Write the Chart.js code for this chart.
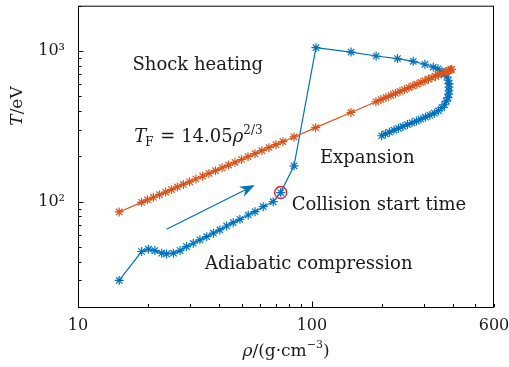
<!DOCTYPE HTML>
<html>
<head>
<script src="https://cdn.jsdelivr.net/npm/chart.js@4.4.1/dist/chart.umd.min.js"></script>
<style>
body { margin: 0; background: #fff; }
#wrap { width: 509px; height: 367px; }
</style>
</head>
<body>
<div id="wrap"><canvas id="myChart" width="509" height="367"></canvas></div>
<script>
// blue path (simulation), rho in g/cm^3, T in eV
var rhoBlue = [15.0, 18.7, 20.0, 21.3, 22.8, 23.9, 25.6, 27.3, 29.1, 31.1, 33.2, 35.5, 37.9, 40.4, 43.2, 46.1, 49.2, 53.4, 57.1, 61.9, 68.3,
  73.5, 83.8, 104, 147, 188, 232, 271, 304, 330,
  345.6, 359.4, 370.2, 377.6, 382.4, 385.1, 385.1, 385.1, 384.0, 381.3, 375.7, 368.4, 359.4, 347.2, 333.8, 319.3, 305.5, 292.3, 279.6, 267.6, 255.9, 244.9, 234.3, 224.1, 214.4, 206.1, 198.6];
var tBlue = [30, 46.7, 48.4, 47.4, 45.5, 45.0, 45.5, 47.4, 50.4, 53.0, 55.8, 58.6, 61.8, 65.0, 69.0, 72.6, 76.4, 81.6, 85.9, 92.7, 100,
  115, 173, 1053, 985, 927, 891, 855, 817, 783,
  762, 734, 706, 675, 640, 607, 575, 545, 517, 490, 465, 440, 421, 402, 387, 375, 364, 353, 343, 334, 325, 316, 307, 299, 289, 282, 274];

// Fermi temperature T_F = 14.05 rho^(2/3)
var rhoFermi = [15.0, 18.7, 19.8, 21.0, 22.3, 23.7, 25.1, 26.6, 28.2, 30.0, 31.9, 34.1, 36.3, 38.7, 41.3, 44.0, 46.9, 50.0, 53.3, 57.1, 61.1, 65.5, 70.2, 75.2,
  83.8, 103.7, 146.8, 187.7,
  197.2, 207.2, 217.6, 227.5, 237.8, 248.5, 259.8, 270.2, 281.0, 292.3, 304.0, 314.7, 325.7, 337.2, 347.2, 357.6, 366.5, 375.7, 383.2, 390.8, 395.4];
var tFermi = [85.5, 99.0, 102.9, 107.0, 111.3, 115.8, 120.4, 125.3, 130.3, 135.5, 141.5, 147.6, 154.0, 160.7, 167.7, 175.1, 182.7, 190.6, 198.9, 208.2, 218.1, 228.3, 239.1, 250.2,
  269.0, 310.1, 391.1, 460.8,
  476.1, 491.9, 508.3, 523.5, 539.3, 555.4, 572.0, 587.3, 602.9, 618.8, 635.3, 650.1, 665.2, 680.6, 694.0, 707.9, 719.6, 731.4, 741.2, 750.9, 756.8];

var collisionIndex = 21;           // point circled in red
var arrowFrom = [23.9, 65.6];      // [rho, T]
var arrowTo = [57, 129];

var xTicks = [10, 20, 30, 40, 50, 60, 70, 80, 90, 100, 200, 300, 400, 500, 600];
var xLabels = {10: '10', 100: '100', 600: '600'};
var yTicks = [20, 30, 40, 50, 60, 70, 80, 90, 100, 200, 300, 400, 500, 600, 700, 800, 900, 1000, 2000];
var yLabels = {100: '10\u00B2', 1000: '10\u00B3'};

var notes = [
  {text: 'Shock heating', x: 17.1, y: 745},
  {text: 'Expansion', x: 108.2, y: 181},
  {text: 'Collision start time', x: 81.9, y: 88.1},
  {text: 'Adiabatic compression', x: 34.9, y: 35.8}
];
var fermiNote = {x: 17.4, y: 250};

var BLUE = '#0072BD', ORANGE = '#D95319';
var SERIF = "'DejaVu Serif', serif";

function pts(xs, ys) {
  var out = [];
  for (var i = 0; i < xs.length; i++) out.push({x: xs[i], y: ys[i]});
  return out;
}

var extras = {
  id: 'extras',
  afterDatasetsDraw: function(chart) {
    var ctx = chart.ctx, a = chart.chartArea, sx = chart.scales.x, sy = chart.scales.y;
    ctx.save();
    // frame
    ctx.strokeStyle = '#000';
    ctx.lineWidth = 1;
    ctx.strokeRect(a.left + 0.5, a.top + 0.5, a.right - a.left - 1, a.bottom - a.top);
    // inward ticks
    ctx.beginPath();
    xTicks.forEach(function(v) {
      var px = Math.round(sx.getPixelForValue(v)) + 0.5;
      var len = (v === 10 || v === 100) ? 5.5 : 3;
      ctx.moveTo(px, a.bottom);
      ctx.lineTo(px, a.bottom - len);
    });
    yTicks.forEach(function(v) {
      var py = Math.round(sy.getPixelForValue(v)) + 0.5;
      var len = (v === 100 || v === 1000) ? 5.5 : 3.5;
      ctx.moveTo(a.left, py);
      ctx.lineTo(a.left + len, py);
    });
    ctx.stroke();

    // red circle at collision start
    var cx = sx.getPixelForValue(rhoBlue[collisionIndex]);
    var cy = sy.getPixelForValue(tBlue[collisionIndex]);
    ctx.strokeStyle = '#E0202A';
    ctx.lineWidth = 1.4;
    ctx.beginPath();
    ctx.arc(cx, cy, 6, 0, Math.PI * 2);
    ctx.stroke();

    // arrow
    var x0 = sx.getPixelForValue(arrowFrom[0]), y0 = sy.getPixelForValue(arrowFrom[1]);
    var x1 = sx.getPixelForValue(arrowTo[0]), y1 = sy.getPixelForValue(arrowTo[1]);
    var ang = Math.atan2(y1 - y0, x1 - x0);
    var hl = 15, hw = 5.5;
    ctx.strokeStyle = BLUE;
    ctx.fillStyle = BLUE;
    ctx.lineWidth = 1.3;
    ctx.beginPath();
    ctx.moveTo(x0, y0);
    ctx.lineTo(x1 - Math.cos(ang) * hl * 0.7, y1 - Math.sin(ang) * hl * 0.7);
    ctx.stroke();
    ctx.translate(x1, y1);
    ctx.rotate(ang);
    ctx.beginPath();
    ctx.moveTo(0, 0);
    ctx.lineTo(-hl, -hw);
    ctx.lineTo(-hl * 0.7, 0);
    ctx.lineTo(-hl, hw);
    ctx.closePath();
    ctx.fill();
    ctx.setTransform(1, 0, 0, 1, 0, 0);

    // text notes
    ctx.fillStyle = '#1a1a1a';
    ctx.textBaseline = 'alphabetic';
    ctx.textAlign = 'left';
    ctx.font = '18px ' + SERIF;
    notes.forEach(function(n) {
      ctx.fillText(n.text, sx.getPixelForValue(n.x), sy.getPixelForValue(n.y));
    });

    // T_F = 14.05 rho^(2/3)
    var tx = sx.getPixelForValue(fermiNote.x), ty = sy.getPixelForValue(fermiNote.y);
    ctx.font = 'italic 18px ' + SERIF;
    ctx.fillText('T', tx, ty);
    tx += ctx.measureText('T').width - 1;
    ctx.font = '12px ' + SERIF;
    ctx.fillText('F', tx, ty + 4);
    tx += ctx.measureText('F').width + 1;
    ctx.font = '18px ' + SERIF;
    ctx.fillText(' = 14.05', tx, ty);
    tx += ctx.measureText(' = 14.05').width;
    ctx.font = 'italic 18px ' + SERIF;
    ctx.fillText('\u03C1', tx, ty);
    tx += ctx.measureText('\u03C1').width;
    ctx.font = '12px ' + SERIF;
    ctx.fillText('2/3', tx, ty - 8);

    // axis titles
    var xt1 = '\u03C1', xt2 = '/(g\u00B7cm', xt3 = '\u22123', xt4 = ')';
    ctx.font = 'italic 17px ' + SERIF;
    var w1 = ctx.measureText(xt1).width;
    ctx.font = '17px ' + SERIF;
    var w2 = ctx.measureText(xt2).width, w4 = ctx.measureText(xt4).width;
    ctx.font = '11px ' + SERIF;
    var w3 = ctx.measureText(xt3).width;
    var bx = (a.left + a.right) / 2 - (w1 + w2 + w3 + w4) / 2, by = 356;
    ctx.font = 'italic 17px ' + SERIF;
    ctx.fillText(xt1, bx, by);
    ctx.font = '17px ' + SERIF;
    ctx.fillText(xt2, bx + w1, by);
    ctx.font = '11px ' + SERIF;
    ctx.fillText(xt3, bx + w1 + w2, by - 8);
    ctx.font = '17px ' + SERIF;
    ctx.fillText(xt4, bx + w1 + w2 + w3, by);

    ctx.translate(22, 106);
    ctx.rotate(-Math.PI / 2);
    ctx.font = 'italic 17px ' + SERIF;
    var wT = ctx.measureText('T').width;
    ctx.font = '17px ' + SERIF;
    var wR = ctx.measureText('/eV').width;
    ctx.font = 'italic 17px ' + SERIF;
    ctx.fillText('T', -(wT + wR) / 2, 0);
    ctx.font = '17px ' + SERIF;
    ctx.fillText('/eV', -(wT + wR) / 2 + wT, 0);
    ctx.restore();
  }
};

var ctx = document.getElementById('myChart').getContext('2d');
var myChart = new Chart(ctx, {
  type: 'line',
  data: {
    datasets: [
      {
        label: 'T_F',
        data: pts(rhoFermi, tFermi),
        borderColor: ORANGE,
        backgroundColor: ORANGE,
        borderWidth: 1.2,
        pointStyle: 'star',
        pointRadius: 4.5,
        pointBorderWidth: 1.2,
        tension: 0
      },
      {
        label: 'path',
        data: pts(rhoBlue, tBlue),
        borderColor: BLUE,
        backgroundColor: BLUE,
        borderWidth: 1.2,
        pointStyle: 'star',
        pointRadius: 4.5,
        pointBorderWidth: 1.2,
        tension: 0
      }
    ]
  },
  options: {
    responsive: false,
    animation: false,
    layout: { padding: { top: 5, right: 15, left: 0, bottom: 0 } },
    plugins: { legend: { display: false }, tooltip: { enabled: false } },
    scales: {
      x: {
        type: 'logarithmic',
        min: 10,
        max: 600,
        grid: { display: false },
        border: { display: false },
        afterBuildTicks: function(s) { s.ticks = xTicks.map(function(v) { return {value: v}; }); },
        afterFit: function(s) { s.height = 60; s.paddingLeft = 0; s.paddingRight = 0; },
        ticks: {
          autoSkip: false,
          maxRotation: 0,
          padding: 1,
          color: '#1a1a1a',
          font: { family: SERIF, size: 16 },
          callback: function(v) { return xLabels[v] || ''; }
        }
      },
      y: {
        type: 'logarithmic',
        min: 20,
        max: 2000,
        grid: { display: false },
        border: { display: false },
        afterBuildTicks: function(s) { s.ticks = yTicks.map(function(v) { return {value: v}; }); },
        afterFit: function(s) { s.width = 78; s.paddingTop = 0; s.paddingBottom = 0; },
        ticks: {
          autoSkip: false,
          padding: 5,
          color: '#1a1a1a',
          font: { family: SERIF, size: 16 },
          callback: function(v) { return yLabels[v] || ''; }
        }
      }
    }
  },
  plugins: [extras]
});
</script>
</body>
</html>
